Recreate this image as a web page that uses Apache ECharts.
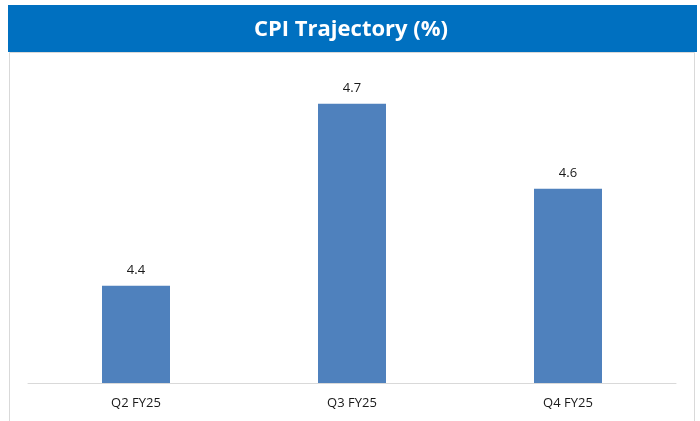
<!DOCTYPE html>
<html>
<head>
<meta charset="utf-8">
<script src="https://cdn.jsdelivr.net/npm/echarts@6/dist/echarts.min.js"></script>
<style>
  html, body { margin: 0; padding: 0; background: #fff; }
  #chart { width: 700px; height: 421px; }
</style>
</head>
<body>
<div id="chart"></div>
<script>
const titleText = 'CPI Trajectory (%)';
const quarters = ['Q2 FY25', 'Q3 FY25', 'Q4 FY25'];
const cpiValues = [4.4, 4.7, 4.56];

var myChart = echarts.init(document.getElementById('chart'), null, { renderer: 'canvas' });

var option = {
    animation: false,
    backgroundColor: '#ffffff',
    textStyle: { fontFamily: 'Open Sans' },
    graphic: [
        {
            type: 'rect',
            shape: { x: 9.5, y: 52.5, width: 685, height: 380 },
            style: { fill: 'none', stroke: '#d9d9d9', lineWidth: 1 }
        },
        {
            type: 'rect',
            shape: { x: 8, y: 5, width: 689, height: 47 },
            style: { fill: '#0070c0' }
        },
        {
            type: 'text',
            x: 351,
            y: 30,
            style: {
                text: titleText,
                fill: '#ffffff',
                font: 'bold 22px "Open Sans"',
                textAlign: 'center',
                textVerticalAlign: 'middle'
            }
        }
    ],
    grid: { left: 28, right: 24, top: 43, bottom: 38 },
    xAxis: {
        type: 'category',
        data: quarters,
        axisLine: { lineStyle: { color: '#d9d9d9', width: 1 } },
        axisTick: { show: false },
        axisLabel: { color: '#1a1a1a', fontSize: 13, margin: 14 }
    },
    yAxis: {
        type: 'value',
        min: 4.24,
        max: 4.8,
        show: false,
        splitLine: { show: false }
    },
    series: [
        {
            type: 'bar',
            data: cpiValues,
            barWidth: 68,
            itemStyle: { color: '#4f81bd' },
            label: {
                show: true,
                position: 'top',
                distance: 9,
                color: '#1a1a1a',
                fontSize: 13,
                formatter: function (p) { return p.value.toFixed(1); }
            }
        }
    ]
};

myChart.setOption(option);
</script>
</body>
</html>
